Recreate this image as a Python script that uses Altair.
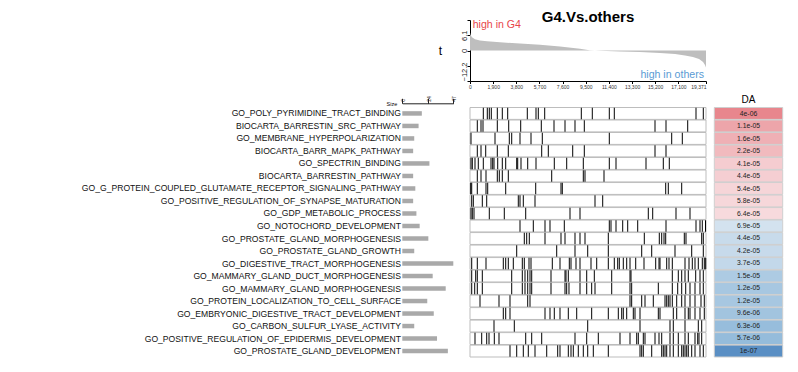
import altair as alt
import numpy as np
import pandas as pd

N_GENES = 19371

TERMS = [
    "GO_POLY_PYRIMIDINE_TRACT_BINDING",
    "BIOCARTA_BARRESTIN_SRC_PATHWAY",
    "GO_MEMBRANE_HYPERPOLARIZATION",
    "BIOCARTA_BARR_MAPK_PATHWAY",
    "GO_SPECTRIN_BINDING",
    "BIOCARTA_BARRESTIN_PATHWAY",
    "GO_G_PROTEIN_COUPLED_GLUTAMATE_RECEPTOR_SIGNALING_PATHWAY",
    "GO_POSITIVE_REGULATION_OF_SYNAPSE_MATURATION",
    "GO_GDP_METABOLIC_PROCESS",
    "GO_NOTOCHORD_DEVELOPMENT",
    "GO_PROSTATE_GLAND_MORPHOGENESIS",
    "GO_PROSTATE_GLAND_GROWTH",
    "GO_DIGESTIVE_TRACT_MORPHOGENESIS",
    "GO_MAMMARY_GLAND_DUCT_MORPHOGENESIS",
    "GO_MAMMARY_GLAND_MORPHOGENESIS",
    "GO_PROTEIN_LOCALIZATION_TO_CELL_SURFACE",
    "GO_EMBRYONIC_DIGESTIVE_TRACT_DEVELOPMENT",
    "GO_CARBON_SULFUR_LYASE_ACTIVITY",
    "GO_POSITIVE_REGULATION_OF_EPIDERMIS_DEVELOPMENT",
    "GO_PROSTATE_GLAND_DEVELOPMENT",
]
SIZES = [18, 15, 11, 10, 25, 10, 12, 10, 13, 16, 24, 11, 47, 28, 40, 23, 29, 11, 32, 42]
DA_LABELS = ["4e-06", "1.1e-05", "1.6e-05", "2.2e-05", "4.1e-05", "4.4e-05", "5.4e-05",
             "5.8e-05", "6.4e-05", "6.9e-05", "4.4e-05", "4.2e-05", "3.7e-05", "1.5e-05",
             "1.2e-05", "1.2e-05", "9.6e-06", "6.3e-06", "5.7e-06", "1e-07"]
DA_DIRECTION = [1, 1, 1, 1, 1, 1, 1, 1, 1, -1, -1, -1, -1, -1, -1, -1, -1, -1, -1, -1]

HITS = [
    [1092, 1420, 1584, 1748, 2241, 2651, 3094, 4703, 5417, 5606, 6131, 9136, 10038, 11434, 11844, 18550, 19149],
    [599, 903, 1067, 2241, 3177, 4161, 5852, 6895, 7798, 8618, 9382, 15185, 16088, 17869],
    [82, 2052, 3226, 3423, 4104, 5007, 5934, 11434, 16555, 17426],
    [599, 903, 1289, 2241, 3144, 5885, 6427, 8430, 9382, 15185, 16088],
    [82, 189, 410, 681, 1092, 1724, 1863, 1970, 2274, 2651, 2930, 3833, 3915, 4186, 4736, 5417, 6919, 7937, 9300, 11434, 11984, 14446, 15866, 16358],
    [599, 903, 1313, 2241, 2405, 2651, 3144, 6706, 9300, 9439, 10999],
    [57, 140, 599, 1313, 1453, 2930, 5393, 7469, 7576, 16063, 16276, 17376],
    [140, 271, 1010, 1371, 3964, 4104, 4375, 5335, 10260, 10892],
    [82, 189, 328, 1584, 2815, 4572, 8208, 9029, 14635, 14996, 16908, 18058],
    [4104, 5196, 6156, 6566, 7740, 11434, 11573, 11984, 12533, 12944, 13765, 16088, 18550, 18878, 19067, 19330],
    [4457, 4654, 4867, 6156, 7469, 7798, 8618, 9029, 9439, 11352, 14307, 15538, 15735, 15924, 16063, 17590, 17729, 19018, 19149],
    [3833, 7116, 8618, 9661, 11352, 14093, 14914, 16826, 18197, 19149],
    [140, 599, 1313, 2733, 2930, 3144, 3554, 4293, 4457, 4843, 5007, 6755, 7387, 8151, 8290, 8700, 9029, 9932, 10400, 11352, 11844, 12123, 12255, 12583, 12862, 13133, 13601, 14282, 15242, 15513, 15595, 16145, 16334, 16605, 17647, 17976, 18246, 18468, 18739, 19067, 19231, 19346],
    [140, 468, 599, 1010, 3423, 4293, 4514, 4736, 4925, 5064, 6649, 7798, 7880, 8069, 9029, 9579, 10203, 11631, 13133, 13215, 16605, 17097, 17376, 17647, 17918, 18525, 18878, 19149],
    [140, 386, 599, 1010, 3423, 4293, 4514, 4736, 4925, 5064, 6649, 7798, 7935, 8124, 9029, 9579, 9987, 10260, 11631, 13133, 13270, 15457, 16605, 17048, 17376, 17705, 18058, 18468, 18878, 19149],
    [821, 2380, 3283, 4736, 4925, 13133, 13270, 14093, 14364, 15045, 16006, 16145, 16276, 16416, 16605, 16966, 17376, 17647, 18058, 18468, 18960, 19231],
    [2733, 2930, 3283, 6156, 6566, 6919, 7387, 8069, 8758, 9987, 11352, 12173, 12452, 12583, 12862, 13404, 13543, 13954, 15457, 15595, 16687, 16966, 17647, 17918, 18058, 18468, 18878, 19231],
    [1970, 3636, 9661, 13954, 16416, 16687, 17647, 18739, 19018],
    [410, 960, 1371, 1560, 1995, 2380, 4572, 5064, 5885, 8618, 9579, 10531, 12312, 13133, 13683, 13814, 14225, 14364, 15185, 15513, 15735, 16416, 16687, 17097, 17647, 17918, 18468, 18690, 18796, 19018],
    [3283, 3833, 4375, 4785, 5335, 6296, 7198, 7387, 8069, 8290, 8479, 8889, 9300, 9661, 10121, 11352, 13954, 14093, 14225, 14914, 15735, 15866, 16006, 16145, 16416, 16687, 17097, 17376, 17507, 17647, 17787, 17918, 18197, 18468, 18878, 19149],
]

T_RANK = [0, 40, 160, 410, 820, 1400, 2460, 4100, 5750, 7390, 9030, 9800, 10670,
          12310, 13950, 15600, 16830, 17650, 18300, 18800, 19130, 19290, 19371]
T_VALUE = [7.2, 6.3, 5.3, 4.5, 4.0, 3.7, 3.3, 2.8, 2.3, 1.6, 0.7, 0.1, -0.1,
           -0.35, -0.6, -1.0, -1.4, -2.0, -2.6, -3.4, -4.6, -5.8, -6.8]

X_TICKS = [0, 1900, 3800, 5700, 7600, 9500, 11400, 13300, 15200, 17100, 19371]
T_TICKS = [-12.2, -6.1, 0, 6.1, 12.2]
SIZE_TICKS = [0, 24, 47]

NOTE_TEXT = ["G4.Vs.others", "high in G4", "high in others"]
NOTE_RANK = [9686, 222, 19207]
NOTE_T = [11.5, 9.1, -11.1]

# ---------------- data tables ----------------
rows = pd.DataFrame({"term": TERMS, "size": SIZES, "da": DA_LABELS, "dir": DA_DIRECTION})
rows["score"] = rows["dir"] * -np.log10(rows["da"].astype(float))
rows["col"] = "DA"
rows["start"] = 0
rows["end"] = N_GENES

hits = pd.DataFrame([{"term": t, "rank": r} for t, rs in zip(TERMS, HITS) for r in rs])
curve = pd.DataFrame({"rank": T_RANK, "t": T_VALUE, "base": 0.0})

# ---------------- scales ----------------
x_rank_scale = alt.Scale(domain=[0, N_GENES], range=[462, 698], nice=False, zero=False)
t_scale = alt.Scale(domain=[-12.2, 12.2], range=[73, 12], nice=False, zero=False)
row_scale = alt.Scale(domain=TERMS, range=[99.5, 349], paddingInner=0.05, paddingOuter=0)
size_scale = alt.Scale(domain=[0, 47], range=[394.3, 445.3], nice=False, zero=False)
da_col_scale = alt.Scale(domain=["DA"], range=[706.3, 774.7], paddingInner=0, paddingOuter=0)
da_color_scale = alt.Scale(domain=[-7, -5.24, -4.16, 4.19, 5.4],
                           range=["#5a8fc4", "#95bcdb", "#d3e2ef", "#f7dadd", "#e8868d"],
                           interpolate="rgb")

row_y = alt.Y("term:N", scale=row_scale, axis=None)

# ---------------- barcode ----------------
boxes = alt.Chart(rows).mark_rect(fill="white", stroke="#bdbdbd", strokeWidth=1, opacity=1).encode(
    x=alt.X("start:Q", scale=x_rank_scale, axis=None),
    x2="end:Q",
    y=row_y,
)
ticks = alt.Chart(hits).mark_tick(color="black", thickness=1, size=11.5, opacity=1).encode(
    x=alt.X("rank:Q", scale=x_rank_scale, axis=None),
    y=row_y,
)

# ---------------- DA column ----------------
da_rect = alt.Chart(rows).mark_rect(stroke="#cfcfcf", strokeWidth=1, opacity=1).encode(
    x=alt.X("col:N", scale=da_col_scale,
            axis=alt.Axis(orient="top", offset=-99.7, ticks=False, domain=False, labelPadding=3,
                          labelFontSize=10, labelColor="black", title=None, labelAngle=0)),
    y=row_y,
    color=alt.Color("score:Q", scale=da_color_scale, legend=None),
)
da_text = alt.Chart(rows).mark_text(fontSize=6.8, color="#222").encode(
    x=alt.X("col:N", scale=da_col_scale, axis=None),
    y=row_y,
    text="da:N",
)

# ---------------- size bars + term labels ----------------
bars = alt.Chart(rows).mark_bar(color="#a9a9a9", size=4.5, opacity=1).encode(
    x=alt.X("size:Q", scale=size_scale,
            axis=alt.Axis(orient="top", offset=-95.3, values=SIZE_TICKS, labelAngle=270,
                          labelExpr="format(datum.value, 'd')",
                          labelAlign="left", labelBaseline="middle", tickSize=5, labelPadding=-3,
                          labelFontSize=5, labelColor="#222", title="Size", titleX=388.7, titleY=0,
                          titleAlign="right", titleBaseline="middle", titleFontSize=5.5,
                          titleFontWeight="normal", titleAngle=0, grid=False, labelFlush=False,
                          labelOverlap=False, domainColor="#222", tickColor="#222")),
    y=alt.Y("term:N", scale=row_scale,
            axis=alt.Axis(orient="left", offset=-394.5, ticks=False, domain=False, labelPadding=2,
                          labelFontSize=8.6, labelLimit=450, labelColor="#111", title=None,
                          labelOverlap=False)),
)

# ---------------- t curve ----------------
area = alt.Chart(curve).mark_area(color="#bebebe", opacity=1, interpolate="linear").encode(
    x=alt.X("rank:Q", scale=x_rank_scale,
            axis=alt.Axis(orient="bottom", offset=-283, values=X_TICKS,
                          labelExpr="format(datum.value, ',')", labelFontSize=5,
                          tickSize=2.5, labelPadding=1, grid=False, title=None, labelFlush=False,
                          labelOverlap=False,
                          labelAlign={"condition": {"test": "datum.value > 19000", "value": "right"},
                                      "value": "center"},
                          domainColor="black", tickColor="black", labelColor="#333")),
    y=alt.Y("t:Q", scale=t_scale,
            axis=alt.Axis(orient="left", offset=-462, values=T_TICKS,
                          labelExpr="datum.value == 12.2 || datum.value == -6.1 ? '' : format(datum.value, '~g')",
                          labelAngle=270, labelBaseline="bottom",
                          labelAlign={"condition": {"test": "datum.value < -10", "value": "left"},
                                      "value": "center"},
                          tickSize=3, labelPadding=-1.5, labelFontSize=7.5, labelColor="#222",
                          grid=False, labelOverlap=False, labelFlush=False,
                          domainColor="black", tickColor="black",
                          title="t", titleAngle=0, titleX=-30, titleY=42.5, titleFontSize=12,
                          titleFontWeight="normal", titleAlign="center", titleBaseline="middle")),
    y2="base:Q",
)


def note(i, **style):
    df = pd.DataFrame({"rank": [NOTE_RANK[i]], "t": [NOTE_T[i]], "label": [NOTE_TEXT[i]]})
    return alt.Chart(df).mark_text(baseline="alphabetic", **style).encode(
        x=alt.X("rank:Q", scale=x_rank_scale, axis=None),
        y=alt.Y("t:Q", scale=t_scale, axis=None),
        text="label:N",
    )


title_txt = note(0, align="center", fontSize=15, fontWeight="bold", color="black")
g4_txt = note(1, align="left", fontSize=10.6, color="#e8464b")
others_txt = note(2, align="right", fontSize=10.6, color="#5a9bd4")

chart = (
    alt.layer(boxes, ticks, da_rect, da_text, bars, area, title_txt, g4_txt, others_txt)
    .resolve_scale(x="independent", y="independent", color="independent")
    .resolve_axis(x="independent", y="independent")
    .properties(width=782, height=356, padding=0, autosize=alt.AutoSizeParams(type="none"))
    .configure(font="Liberation Sans")
    .configure_view(strokeWidth=0)
)

chart.save("out.html", embed_options={"renderer": "svg", "actions": False})
